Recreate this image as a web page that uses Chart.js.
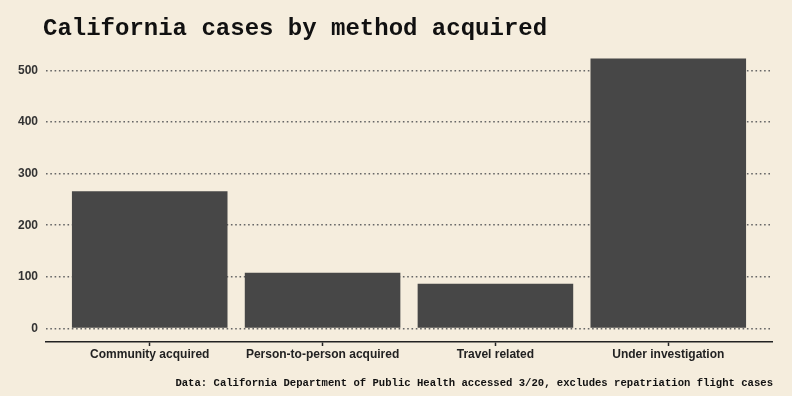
<!DOCTYPE html>
<html>
<head>
<meta charset="utf-8">
<script src="https://cdn.jsdelivr.net/npm/chart.js@4"></script>
<style>
  body { margin: 0; background: #f5eddd; }
  #wrap { position: relative; width: 792px; height: 396px; }
  #title {
    position: absolute; left: 43px; top: 15px;
    font: bold 24px "Courier New", "Liberation Mono", monospace;
    color: #111;
  }
  #caption {
    position: absolute; right: 19px; top: 377px;
    font: bold 10.6px "Courier New", "Liberation Mono", monospace;
    color: #111;
  }
</style>
</head>
<body>
<div id="wrap">
  <canvas id="chart" width="792" height="396"></canvas>
  <div id="title">California cases by method acquired</div>
  <div id="caption">Data: California Department of Public Health accessed 3/20, excludes repatriation flight cases</div>
</div>
<script>
// Cases by how they were acquired
const categories = ['Community acquired', 'Person-to-person acquired', 'Travel related', 'Under investigation'];
const cases = [266, 108, 87, 523];
const yTicks = [0, 100, 200, 300, 400, 500];

const labelFont = { family: 'Liberation Sans, Arial, sans-serif', size: 12, weight: 'bold' };

new Chart(document.getElementById('chart'), {
    type: 'bar',
    data: {
        datasets: [{
            data: cases.map((v, i) => ({ x: i + 1, y: v })),
            backgroundColor: '#474747',
            barPercentage: 0.9,
            categoryPercentage: 1
        }]
    },
    options: {
        responsive: false,
        animation: false,
        layout: { padding: { top: 45, right: 20, bottom: 24, left: 0 } },
        plugins: { legend: { display: false }, tooltip: { enabled: false } },
        scales: {
            x: {
                type: 'linear',
                min: 0.4,
                max: 4.6,
                offset: false,
                afterBuildTicks: axis => { axis.ticks = categories.map((c, i) => ({ value: i + 1 })); },
                afterFit: axis => { axis.height = 30; },
                ticks: {
                    callback: v => categories[v - 1],
                    color: '#222',
                    font: labelFont,
                    padding: 1,
                    maxRotation: 0,
                    autoSkip: false
                },
                grid: { offset: false, drawOnChartArea: false, drawTicks: true, tickLength: 4, tickColor: '#222', tickWidth: 1.5 },
                border: { display: true, color: '#222', width: 1.5 }
            },
            y: {
                min: -26,
                max: 549,
                afterBuildTicks: axis => { axis.ticks = yTicks.map(v => ({ value: v })); },
                afterFit: axis => { axis.width = 46; },
                ticks: { color: '#333', font: labelFont, padding: 8 },
                grid: { color: '#666', lineWidth: 1.6, drawTicks: false },
                border: { display: false, dash: [1.6, 2.7] }
            }
        }
    }
});
</script>
</body>
</html>
